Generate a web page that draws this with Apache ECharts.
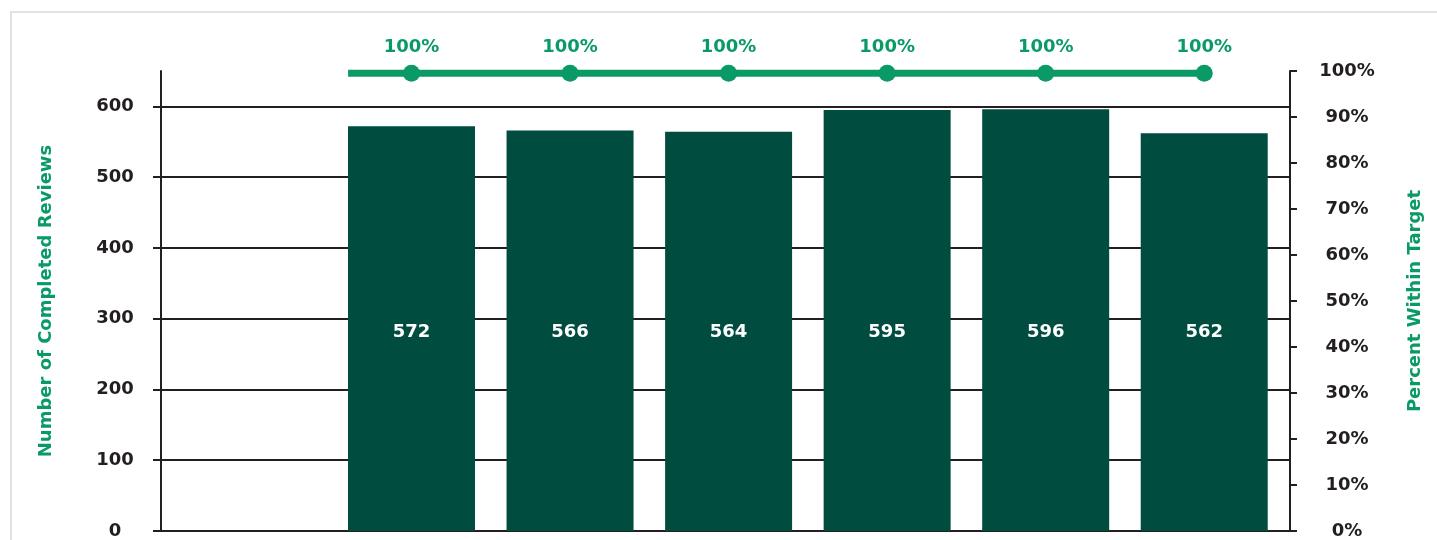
<!DOCTYPE html>
<html>
<head>
<meta charset="utf-8">
<script src="https://cdn.jsdelivr.net/npm/echarts@6/dist/echarts.min.js"></script>
<style>
  html, body { margin: 0; padding: 0; background: #fff; }
  #frame {
    position: absolute; left: 10px; top: 11px; width: 1500px; height: 600px;
    border: 2px solid #e2e2e2; box-sizing: border-box;
  }
  #chart { position: absolute; left: 0; top: 0; width: 1437px; height: 540px; }
</style>
</head>
<body>
<div id="frame"></div>
<div id="chart"></div>
<script>
// bar positions along the (hidden) x scale, first slot is empty
const slots = [1, 2, 3, 4, 5, 6];
const reviews = [572, 566, 564, 595, 596, 562];
const pctWithin = [99.5, 99.5, 99.5, 99.5, 99.5, 99.5]; // shown rounded as 100%
const lineStartX = 0.6; // line begins at left edge of first bar
const leftTicks = [0, 100, 200, 300, 400, 500, 600];

const green = '#0a9a66';
const dark = '#004d40';
const ink = '#231f20';
const font = 'DejaVu Sans';

const chart = echarts.init(document.getElementById('chart'));

const lineData = [[lineStartX, pctWithin[0]]].concat(slots.map((s, i) => [s, pctWithin[i]]));

const option = {
  animation: false,
  grid: { left: 161, right: 147, top: 71, bottom: 8 },
  xAxis: {
    type: 'value',
    min: -0.58,
    max: 6.541,
    show: false
  },
  yAxis: [{
    type: 'value',
    min: 0,
    max: 650,
    name: 'Number of Completed Reviews',
    nameLocation: 'middle',
    nameGap: 106,
    nameTextStyle: { color: green, fontFamily: font, fontWeight: 'bold', fontSize: 18 },
    axisLine: { show: true, onZero: false, lineStyle: { color: ink, width: 2 } },
    axisTick: { show: true, length: 8, customValues: leftTicks, lineStyle: { color: ink, width: 2 } },
    axisLabel: {
      customValues: leftTicks,
      margin: 46, align: 'center',
      color: ink, fontFamily: font, fontWeight: 'bold', fontSize: 18
    },
    splitLine: { show: true, lineStyle: { color: ink, width: 2 } }
  }, {
    type: 'value',
    min: 0,
    max: 100,
    interval: 10,
    position: 'right',
    name: 'Percent Within Target',
    nameLocation: 'middle',
    nameGap: 116,
    nameRotate: 90,
    nameTextStyle: { color: green, fontFamily: font, fontWeight: 'bold', fontSize: 18 },
    axisLine: { show: true, onZero: false, lineStyle: { color: ink, width: 2 } },
    axisTick: { show: true, length: 7, lineStyle: { color: ink, width: 2 } },
    axisLabel: {
      formatter: '{value}%',
      margin: 57, align: 'center',
      color: ink, fontFamily: font, fontWeight: 'bold', fontSize: 18
    },
    splitLine: { show: false }
  }],
  series: [{
    type: 'bar',
    data: slots.map((s, i) => [s, reviews[i]]),
    barWidth: 127,
    itemStyle: { color: dark },
    label: {
      show: true, position: 'insideBottom', distance: 190,
      formatter: p => p.value[1],
      color: '#fff', fontFamily: font, fontWeight: 'bold', fontSize: 18
    }
  }, {
    type: 'line',
    yAxisIndex: 1,
    data: lineData,
    symbol: 'circle',
    symbolSize: (v, p) => (p.dataIndex === 0 ? 0 : 17),
    lineStyle: { color: green, width: 7 },
    itemStyle: { color: green },
    label: {
      show: true, position: 'top', distance: 8,
      formatter: p => (p.dataIndex === 0 ? '' : Math.round(p.value[1]) + '%'),
      color: green, fontFamily: font, fontWeight: 'bold', fontSize: 18
    }
  }]
};

chart.setOption(option);
</script>
</body>
</html>
